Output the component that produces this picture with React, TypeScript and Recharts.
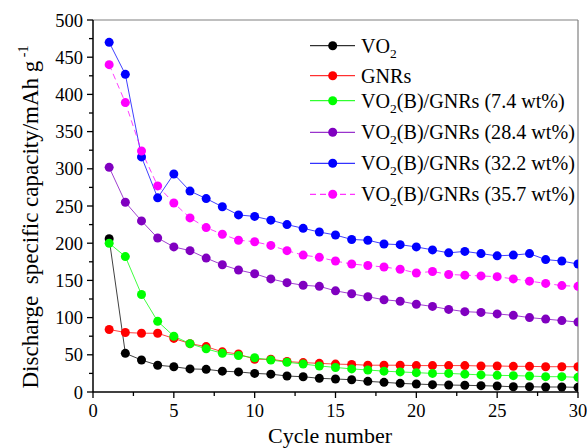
import React from 'react';
import { LineChart, Line, XAxis, YAxis, ReferenceLine, Legend, Label } from 'recharts';

const cycles = [1, 2, 3, 4, 5, 6, 7, 8, 9, 10, 11, 12, 13, 14, 15, 16, 17, 18, 19, 20, 21, 22, 23, 24, 25, 26, 27, 28, 29, 30];

const vo2 = [206, 52, 43, 36, 34, 31, 30.5, 28, 27, 25, 24, 21.5, 20.5, 18.4, 17.5, 16.5, 14.3, 13, 11.6, 10.7, 9.9, 9.4, 9, 8.5, 8, 7, 7, 6.7, 6.7, 6.3];
const gnrs = [84, 80, 79, 79, 72, 65, 61, 54, 51, 44, 44, 41, 39.5, 38.5, 37.5, 37, 36, 36, 36, 35.5, 35.5, 35.5, 35.5, 35, 35, 34.5, 34.5, 34, 34, 34];
const vg74 = [200, 182, 131, 95, 75, 65, 58, 52, 49, 46, 43, 40, 37.6, 35, 33, 31, 29.6, 28, 27, 26, 25, 25, 24, 23, 22.4, 22, 21.5, 20.6, 20.6, 19.7];
const vg284 = [302, 255, 230, 207, 195, 190, 180, 171, 164, 159, 152, 147, 143.5, 142, 136, 132, 128, 124, 122, 118, 115, 111, 108, 107, 105, 103, 100, 98, 96, 94];
const vg322 = [470, 427, 316, 261, 293, 270, 260, 249, 238, 236, 231, 225, 220, 215, 211, 205, 204, 199, 198, 195, 191, 187, 189, 186, 183, 184, 186, 178, 176, 172];
const vg357 = [440, 389, 324, 277, 254, 234, 221, 212, 204, 202, 197, 190, 184, 181, 176, 172, 170, 168, 165, 160, 162, 158, 157, 156, 155, 152, 149, 146, 143, 142];

const seriesKeys = ['vo2', 'gnrs', 'vg74', 'vg284', 'vg322', 'vg357'];
const seriesValues = [vo2, gnrs, vg74, vg284, vg322, vg357];
const seriesNames = ['VO2', 'GNRs', 'VO2(B)/GNRs (7.4 wt%)', 'VO2(B)/GNRs (28.4 wt%)', 'VO2(B)/GNRs (32.2 wt%)', 'VO2(B)/GNRs (35.7 wt%)'];
const seriesColors = ['#000000', '#ff0000', '#00ff00', '#8000c0', '#0000ff', '#ff00ff'];
const seriesDash = ['', '', '', '', '', '6 4'];

const xTicks = [0, 2.5, 5, 7.5, 10, 12.5, 15, 17.5, 20, 22.5, 25, 27.5, 30];
const yTicks = [0, 25, 50, 75, 100, 125, 150, 175, 200, 225, 250, 275, 300, 325, 350, 375, 400, 425, 450, 475, 500];

const data = cycles.map((c, i) => {
  const row: Record<string, number> = { cycle: c };
  seriesKeys.forEach((k, j) => {
    row[k] = seriesValues[j][i];
  });
  return row;
});

const FONT = "'Liberation Serif', 'Times New Roman', serif";

const XTick = (props: any) => {
  const { x, y, payload } = props;
  const v = payload.value;
  const major = v % 5 === 0;
  return (
    <g>
      <line x1={x} x2={x} y1={y} y2={y + (major ? 6 : 4)} stroke="#000" strokeWidth={1.3} />
      {major && (
        <text x={x} y={y + 25} textAnchor="middle" fontFamily={FONT} fontSize={18.5} fill="#000">
          {v}
        </text>
      )}
    </g>
  );
};

const YTick = (props: any) => {
  const { x, y, payload } = props;
  const v = payload.value;
  const major = v % 50 === 0;
  return (
    <g>
      <line x1={x} x2={x - (major ? 6 : 4)} y1={y} y2={y} stroke="#000" strokeWidth={1.3} />
      {major && (
        <text x={x - 10} y={y + 6.5} textAnchor="end" fontFamily={FONT} fontSize={18.5} fill="#000">
          {v}
        </text>
      )}
    </g>
  );
};

const renderName = (name: string, subSize: number) => {
  const parts = name.split('VO2');
  const out: React.ReactNode[] = [];
  parts.forEach((p, i) => {
    if (i > 0) {
      out.push(<tspan key={'v' + i}>VO</tspan>);
      out.push(
        <tspan key={'s' + i} fontSize={subSize} dy={5}>
          2
        </tspan>
      );
      out.push(<tspan key={'r' + i} dy={-5}>{p}</tspan>);
    } else if (p) {
      out.push(<tspan key={'p' + i}>{p}</tspan>);
    }
  });
  return out;
};

const legendRowY = [15.7, 45.7, 70.7, 102.3, 133.3, 164.3];

const LegendBox = () => (
  <svg width={285} height={180} style={{ display: 'block' }}>
    {seriesNames.map((n, i) => {
      const cy = legendRowY[i];
      return (
        <g key={n}>
          <line x1={10} x2={55} y1={cy} y2={cy} stroke={seriesColors[i]} strokeWidth={1} strokeDasharray={seriesDash[i] || undefined} />
          <circle cx={32.7} cy={cy} r={4.5} fill={seriesColors[i]} />
          <text x={61} y={cy + 7} fontFamily={FONT} fontSize={20.1} fill="#000">
            {renderName(n, 13.5)}
          </text>
        </g>
      );
    })}
  </svg>
);

const YTitle = () => (
  <text
    transform="translate(38,217) rotate(-90)"
    textAnchor="middle"
    fontFamily={FONT}
    fontSize={23}
    fill="#000"
    style={{ whiteSpace: 'pre' }}
  >
    {'Discharge  specific capacity/mAh g'}
    <tspan fontSize={14} dy={-10}>
      {' -1'}
    </tspan>
  </text>
);

const XTitle = () => (
  <text x={330} y={443} textAnchor="middle" fontFamily={FONT} fontSize={22} fill="#000">
    Cycle number
  </text>
);

export default function App() {
  return (
    <div style={{ position: 'absolute', left: 0, top: 0, width: 587, height: 448, background: '#fff' }}>
      <LineChart width={587} height={448} data={data} margin={{ top: 20, right: 9, left: 0, bottom: 0 }}>
        <XAxis
          dataKey="cycle"
          type="number"
          domain={[0, 30]}
          ticks={xTicks}
          interval={0}
          allowDataOverflow
          height={56}
          tickSize={0}
          tickMargin={0}
          tick={XTick}
          axisLine={{ stroke: '#000', strokeWidth: 1.5 }}
        >
          <Label content={XTitle} />
        </XAxis>
        <YAxis
          type="number"
          domain={[0, 500]}
          ticks={yTicks}
          interval={0}
          allowDataOverflow
          width={93}
          tickSize={0}
          tickMargin={0}
          tick={YTick}
          axisLine={{ stroke: '#000', strokeWidth: 1.5 }}
        >
          <Label content={YTitle} />
        </YAxis>
        <ReferenceLine y={500} stroke="#808080" strokeWidth={1.2} />
        <ReferenceLine x={30} stroke="#808080" strokeWidth={1.2} />
        {seriesKeys.map((k, i) => (
          <Line
            key={k}
            dataKey={k}
            name={seriesNames[i]}
            stroke={seriesColors[i]}
            strokeWidth={1}
            strokeOpacity={0.75}
            strokeDasharray={seriesDash[i] || undefined}
            dot={{ r: 4.5, fill: seriesColors[i], stroke: seriesColors[i], strokeWidth: 0 }}
            activeDot={false}
            isAnimationActive={false}
          />
        ))}
        <Legend
          layout="vertical"
          align="center"
          verticalAlign="middle"
          wrapperStyle={{ left: 300, top: 30, width: 285, height: 180 }}
          content={LegendBox}
        />
      </LineChart>
    </div>
  );
}
